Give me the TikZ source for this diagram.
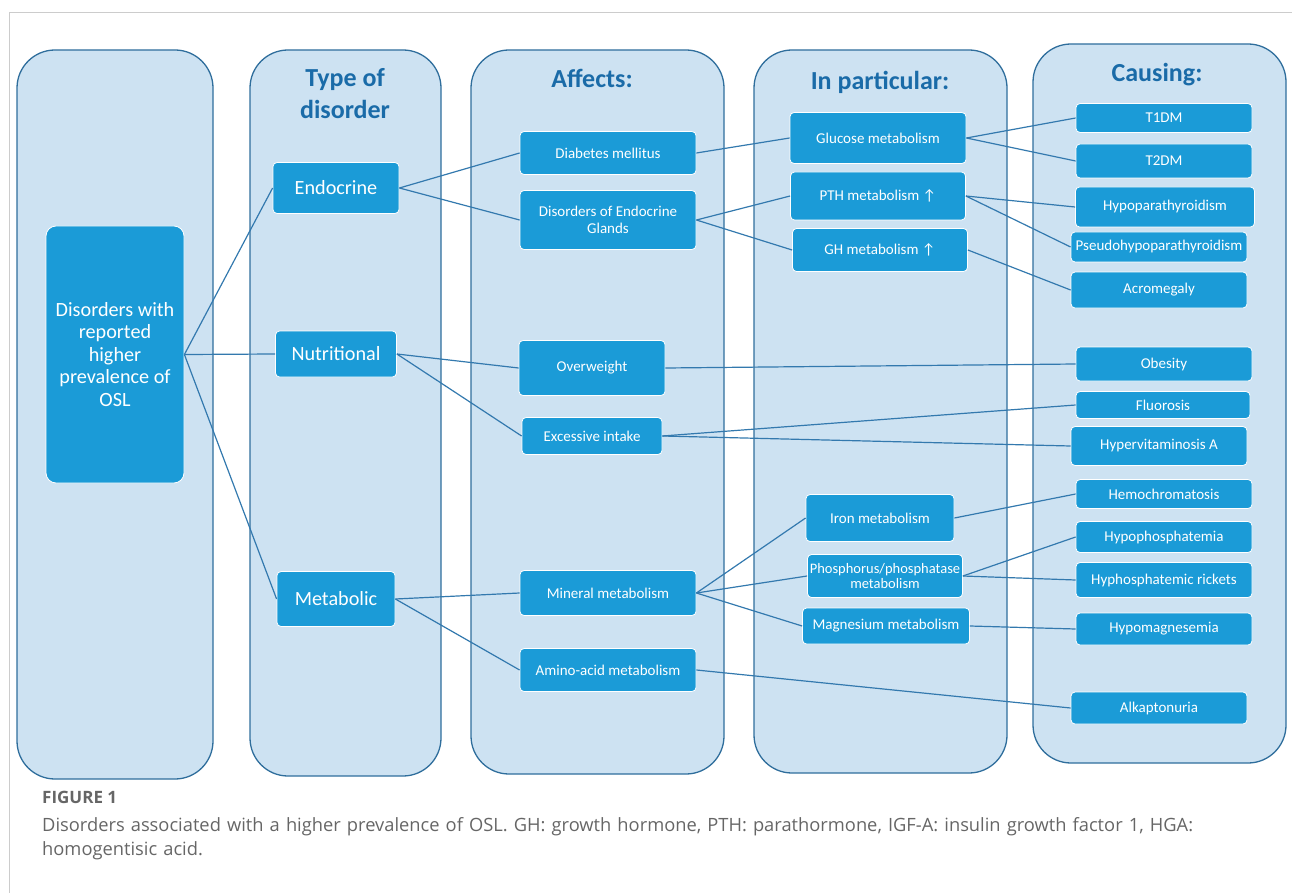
\documentclass[tikz,border=0pt]{standalone}
\usepackage{fontspec}
\setmainfont{Carlito}
\newfontfamily\capfont{Open Sans}
\definecolor{colfill}{HTML}{CDE2F2}
\definecolor{coledge}{HTML}{2F6E9C}
\definecolor{boxfill}{HTML}{1B9BD7}
\definecolor{titleblue}{HTML}{1A6BA8}
\definecolor{linkblue}{HTML}{3379AE}
\definecolor{framegray}{HTML}{CCCCCC}
\definecolor{capgray}{HTML}{666666}

\begin{document}
\begin{tikzpicture}[x=1pt, y=-1pt]
				\tikzstyle{every node}=[inner sep=1pt, align=center]
				\tikzstyle{column}=[draw=coledge, line width=1.3pt, fill=colfill, rounded corners=38pt]
				\tikzstyle{box}=[draw=white, line width=0.8pt, fill=boxfill, rounded corners=4pt, text=white, font=\fontsize{15}{16.5}\selectfont]
				\tikzstyle{bigbox}=[box, font=\fontsize{20.2}{22.5}\selectfont]
				\tikzstyle{title}=[text=titleblue, font=\bfseries\fontsize{26}{32}\selectfont]
				\tikzstyle{link}=[draw=linkblue, line width=1.2pt]
				\useasboundingbox (0, 0) rectangle (1292, 893);
				\draw [framegray, line width=0.8pt] (9, 893) -- (9, 12) -- (1292, 12);
				% columns
				\node [column, minimum width=196, minimum height=729] (colA) at (115, 414.5) {};
				\node [column, minimum width=191, minimum height=726] (colB) at (345.5, 413) {};
				\node [column, minimum width=253, minimum height=724] (colC) at (597.5, 412) {};
				\node [column, minimum width=253, minimum height=723] (colD) at (880.5, 411.5) {};
				\node [column, minimum width=253, minimum height=719] (colE) at (1159.5, 403.5) {};
				\node [title] (tB) at (345, 94) {Type of\\disorder};
				\node [title] (tC) at (592, 78) {Affects:};
				\node [title] (tD) at (880, 82) {In particular:};
				\node [title] (tE) at (1157, 75) {Causing:};
				% boxes
				\node [bigbox, rounded corners=10pt, minimum width=138, minimum height=257] (OSL) at (115, 354.5) {Disorders with\\reported\\higher\\prevalence of\\OSL};
				\node [bigbox, minimum width=126, minimum height=51] (endo) at (336, 188) {Endocrine};
				\node [bigbox, minimum width=121, minimum height=46] (nutr) at (336, 354) {Nutritional};
				\node [bigbox, minimum width=118, minimum height=55] (meta) at (336, 599) {Metabolic};
				\node [box, minimum width=176, minimum height=43] (diab) at (608, 153) {Diabetes mellitus};
				\node [box, minimum width=176, minimum height=59] (glands) at (608, 220) {Disorders of Endocrine\\Glands};
				\node [box, minimum width=146, minimum height=55] (overw) at (592, 368) {Overweight};
				\node [box, minimum width=140, minimum height=37] (exces) at (592, 436) {Excessive intake};
				\node [box, minimum width=176, minimum height=45] (miner) at (608, 593) {Mineral metabolism};
				\node [box, minimum width=176, minimum height=43] (amino) at (608, 670) {Amino-acid metabolism};
				\node [box, minimum width=176, minimum height=51] (gluc) at (878, 138) {Glucose metabolism};
				\node [box, minimum width=175, minimum height=48] (pth) at (878, 196) {PTH metabolism \symbol{"2191}};
				\node [box, minimum width=175, minimum height=43] (gh) at (880, 250) {GH metabolism \symbol{"2191}};
				\node [box, minimum width=148, minimum height=47] (iron) at (880, 518) {Iron metabolism};
				\node [box, minimum width=155, minimum height=43, inner sep=0pt, font=\fontsize{14.5}{15}\selectfont] (phos) at (885, 576) {Phosphorus/phosphatase\\metabolism};
				\node [box, minimum width=167, minimum height=36] (magn) at (886, 626) {Magnesium metabolism};
				\node [box, minimum width=176, minimum height=29] (tone) at (1164, 118) {T1DM};
				\node [box, minimum width=176, minimum height=34] (ttwo) at (1164, 161) {T2DM};
				\node [box, minimum width=179, minimum height=40] (hpara) at (1165, 207) {Hypoparathyroidism};
				\node [box, minimum width=176, minimum height=30, inner sep=0pt] (pseudo) at (1159, 247) {Pseudohypoparathyroidism};
				\node [box, minimum width=176, minimum height=36] (acro) at (1159, 290) {Acromegaly};
				\node [box, minimum width=176, minimum height=34] (obes) at (1164, 364) {Obesity};
				\node [box, minimum width=174, minimum height=27] (fluor) at (1163, 405) {Fluorosis};
				\node [box, minimum width=176, minimum height=39] (hvit) at (1159, 446) {Hypervitaminosis A};
				\node [box, minimum width=176, minimum height=29] (hemo) at (1164, 494) {Hemochromatosis};
				\node [box, minimum width=176, minimum height=31] (hphos) at (1164, 537) {Hypophosphatemia};
				\node [box, minimum width=176, minimum height=35] (rick) at (1164, 580) {Hyphosphatemic rickets};
				\node [box, minimum width=176, minimum height=32] (hmag) at (1164, 629) {Hypomagnesemia};
				\node [box, minimum width=176, minimum height=32] (alka) at (1159, 708) {Alkaptonuria};
				% connectors
				\draw [link] (OSL.east) -- (endo.west);
				\draw [link] (OSL.east) -- (nutr.west);
				\draw [link] (OSL.east) -- (meta.west);
				\draw [link] (endo.east) -- (diab.west);
				\draw [link] (endo.east) -- (glands.west);
				\draw [link] (nutr.east) -- (overw.west);
				\draw [link] (nutr.east) -- (exces.west);
				\draw [link] (meta.east) -- (miner.west);
				\draw [link] (meta.east) -- (amino.west);
				\draw [link] (diab.east) -- (gluc.west);
				\draw [link] (glands.east) -- (pth.west);
				\draw [link] (glands.east) -- (gh.west);
				\draw [link] (gluc.east) -- (tone.west);
				\draw [link] (gluc.east) -- (ttwo.west);
				\draw [link] (pth.east) -- (hpara.west);
				\draw [link] (pth.east) -- (pseudo.west);
				\draw [link] (gh.east) -- (acro.west);
				\draw [link] (overw.east) -- (obes.west);
				\draw [link] (exces.east) -- (fluor.west);
				\draw [link] (exces.east) -- (hvit.west);
				\draw [link] (miner.east) -- (iron.west);
				\draw [link] (miner.east) -- (phos.west);
				\draw [link] (miner.east) -- (magn.west);
				\draw [link] (iron.east) -- (hemo.west);
				\draw [link] (phos.east) -- (hphos.west);
				\draw [link] (phos.east) -- (rick.west);
				\draw [link] (magn.east) -- (hmag.west);
				\draw [link] (amino.east) -- (alka.west);
				% caption
				\node [anchor=base west, inner sep=0pt, text=capgray, font=\capfont\bfseries\fontsize{17}{20}\selectfont] (fig) at (42, 803) {FIGURE 1};
				\node [anchor=base west, inner sep=0pt, text=capgray, font=\capfont\fontsize{18.3}{24}\selectfont, text width=1245, align=left] (cap) at (42, 831) {Disorders associated with a higher prevalence of OSL. GH: growth hormone, PTH: parathormone, IGF-A: insulin growth factor 1, HGA:\\homogentisic acid.};
		\end{tikzpicture}
\end{document}
